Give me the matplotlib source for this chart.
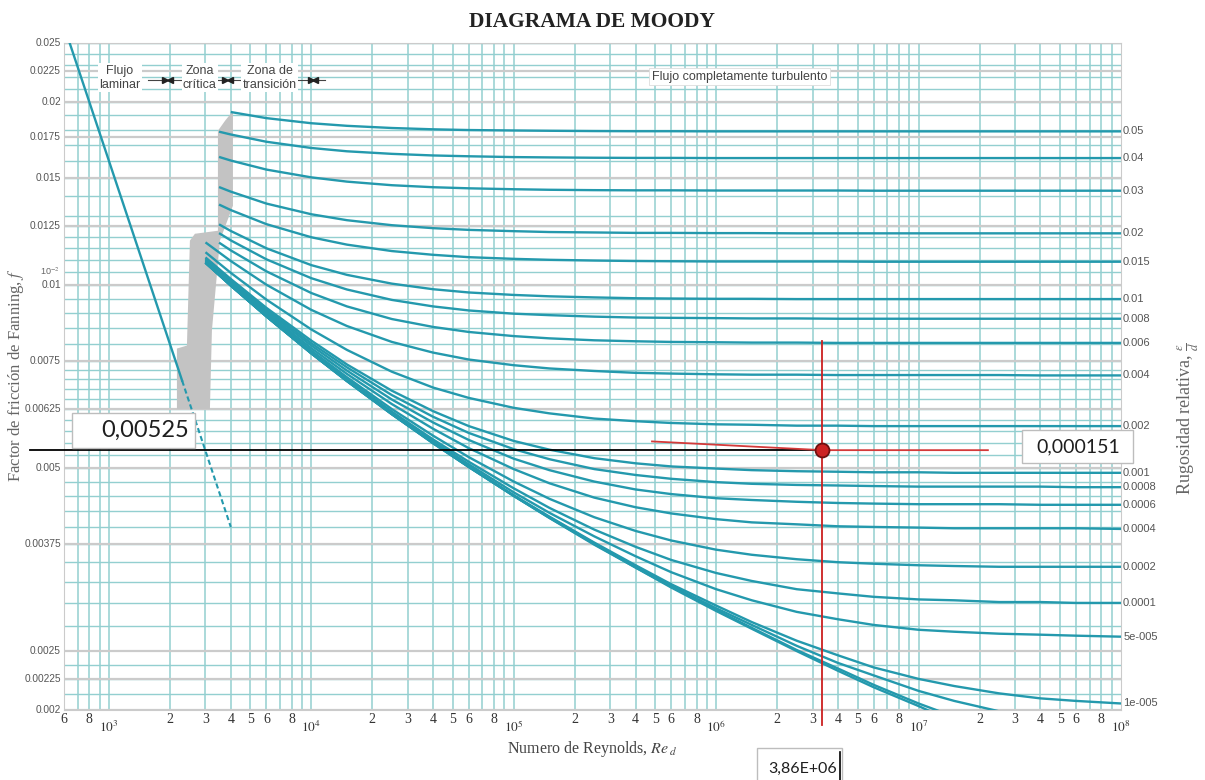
import numpy as np
import matplotlib
matplotlib.use('Agg')
import matplotlib.pyplot as plt
from matplotlib.patches import Rectangle
from matplotlib.transforms import blended_transform_factory

plt.rcParams['mathtext.fontset'] = 'stix'

# rugosidad relativa de cada curva y su etiqueta a la derecha
rugosidad = [0.05, 0.04, 0.03, 0.02, 0.015, 0.01, 0.008, 0.006, 0.004, 0.002, 0.001,
             0.0008, 0.0006, 0.0004, 0.0002, 0.0001, 5e-5, 1e-5, 5e-6, 1e-6, 0.0]
etiquetas = ['0.05', '0.04', '0.03', '0.02', '0.015', '0.01', '0.008', '0.006', '0.004',
             '0.002', '0.001', '0.0008', '0.0006', '0.0004', '0.0002', '0.0001',
             '5e-005', '1e-005']
re_inicio = [4000, 3500, 3500, 3500, 3500, 3500, 3500, 3500, 3000, 3000, 3000,
             3000, 3000, 3000, 3000, 3000, 3000, 3000, 3000, 3000, 3000]
re_malla = [4e3, 6e3, 1e4, 1.5e4, 2.5e4, 4e4, 6e4, 1e5, 1.5e5, 2.5e5, 4e5, 6e5,
            1e6, 1.5e6, 2.5e6, 4e6, 6e6, 1e7, 1.5e7, 2.5e7, 4e7, 6e7, 1e8]
# factor de Fanning x 1e5; primera columna en re_inicio, resto en re_malla
f_curvas = [
    [1925, 1925, 1881, 1845, 1827, 1812, 1803, 1798, 1795, 1793, 1791, 1790, 1790, 1789, 1789, 1789, 1789, 1789, 1789, 1789, 1789, 1789, 1789, 1789],
    [1787, 1768, 1720, 1680, 1659, 1643, 1633, 1628, 1623, 1621, 1619, 1618, 1618, 1617, 1617, 1617, 1617, 1617, 1617, 1617, 1617, 1617, 1617, 1617],
    [1624, 1602, 1548, 1503, 1479, 1459, 1448, 1442, 1437, 1434, 1432, 1431, 1431, 1430, 1430, 1430, 1430, 1429, 1429, 1429, 1429, 1429, 1429, 1429],
    [1449, 1424, 1361, 1307, 1278, 1254, 1240, 1232, 1226, 1222, 1220, 1218, 1218, 1217, 1217, 1216, 1216, 1216, 1216, 1216, 1216, 1216, 1216, 1216],
    [1356, 1328, 1259, 1198, 1165, 1137, 1121, 1111, 1104, 1100, 1097, 1095, 1094, 1093, 1093, 1093, 1093, 1092, 1092, 1092, 1092, 1092, 1092, 1092],
    [1258, 1227, 1149, 1078, 1039, 1005, 984, 972, 963, 958, 954, 951, 950, 949, 949, 948, 948, 948, 948, 948, 948, 948, 948, 948],
    [1217, 1184, 1102, 1026, 983, 945, 922, 908, 897, 892, 887, 884, 883, 882, 881, 881, 880, 880, 880, 880, 880, 880, 880, 880],
    [1174, 1140, 1053, 970, 922, 879, 853, 837, 824, 817, 811, 808, 806, 805, 804, 804, 803, 803, 803, 803, 803, 803, 803, 803],
    [1175, 1095, 1001, 910, 856, 806, 774, 754, 738, 729, 722, 717, 715, 713, 712, 712, 711, 711, 711, 711, 711, 710, 710, 710],
    [1132, 1047, 946, 845, 782, 720, 678, 652, 628, 615, 603, 597, 593, 590, 589, 587, 587, 586, 586, 586, 586, 586, 586, 586],
    [1110, 1023, 917, 810, 740, 670, 620, 586, 554, 536, 519, 509, 503, 499, 496, 494, 493, 492, 492, 491, 491, 491, 491, 491],
    [1106, 1018, 912, 802, 732, 659, 607, 571, 537, 517, 498, 487, 480, 474, 471, 469, 468, 467, 466, 466, 466, 466, 465, 465],
    [1101, 1013, 906, 795, 723, 648, 594, 556, 518, 496, 475, 461, 453, 446, 443, 440, 438, 437, 436, 436, 436, 435, 435, 435],
    [1097, 1008, 900, 787, 714, 637, 580, 539, 498, 472, 447, 431, 421, 412, 407, 404, 401, 400, 399, 398, 398, 398, 398, 397],
    [1092, 1003, 894, 780, 705, 625, 565, 521, 475, 445, 415, 394, 380, 367, 360, 354, 350, 348, 346, 345, 344, 344, 344, 344],
    [1090, 1000, 891, 776, 700, 619, 557, 512, 463, 430, 396, 371, 353, 336, 326, 316, 311, 307, 304, 303, 301, 301, 300, 300],
    [1089, 999, 889, 774, 698, 616, 553, 507, 456, 422, 386, 358, 337, 316, 303, 290, 282, 276, 271, 269, 267, 266, 265, 264],
    [1088, 998, 888, 772, 696, 614, 550, 503, 451, 416, 377, 346, 322, 297, 279, 260, 246, 235, 225, 219, 213, 209, 207, 205],
    [1088, 998, 888, 772, 695, 613, 550, 502, 450, 415, 376, 344, 320, 294, 276, 255, 239, 228, 215, 207, 199, 193, 190, 187],
    [1088, 998, 888, 772, 695, 613, 549, 502, 450, 414, 375, 343, 319, 292, 273, 251, 234, 220, 205, 195, 183, 174, 168, 161],
    [1088, 998, 888, 772, 695, 613, 549, 502, 450, 414, 374, 343, 318, 291, 272, 250, 232, 218, 203, 191, 178, 167, 158, 149],
]

# flujo laminar: tramo continuo y tramo discontinuo
re_laminar = [640, 2300, 4000]
f_laminar = [0.025, 0.00696, 0.004]

# zona critica sombreada
zona_re = [4100, 4100, 3535, 3228, 3155, 2168, 2168, 2429, 2513, 2660, 3456, 3456, 3742]
zona_f = [0.01933, 0.0135, 0.01183, 0.00842, 0.00625, 0.00625, 0.00786, 0.00795,
          0.01183, 0.01214, 0.01228, 0.01793, 0.01861]

# lectura marcada
re_lectura = 3.35e6
f_lectura = 0.00535
linea_roja_re = [4.82e5, 3.35e6, 2.2e7]
linea_roja_f = [0.00553, 0.00535, 0.00535]

yticks = [0.002, 0.00225, 0.0025, 0.00375, 0.005, 0.00625, 0.0075, 0.01, 0.0125,
          0.015, 0.0175, 0.02, 0.0225, 0.025]
ytick_labels = ['0.002', '0.00225', '0.0025', '0.00375', '0.005', '0.00625', '0.0075',
                '0.01', '0.0125', '0.015', '0.0175', '0.02', '0.0225', '0.025']

teal = '#2499ad'
grid_teal = '#93cfd0'
grid_gray = '#cbcbcb'

W, H = 1205, 780
fig = plt.figure(figsize=(W / 100, H / 100), dpi=100)
ax = fig.add_axes([64 / W, 1 - 710 / H, (1121 - 64) / W, (710 - 43) / H])
ax.set_xscale('log')
ax.set_yscale('log')
ax.set_xlim(600, 1e8)
ax.set_ylim(0.002, 0.025)
ax.set_xticks([])
ax.set_yticks([])
ax.set_xticks([], minor=True)
ax.set_yticks([], minor=True)
for s in ax.spines.values():
    s.set_color(grid_gray)

# rejilla
for n in range(2, 8):
    for k in range(1, 10):
        v = k * 10 ** n
        if 600 <= v <= 1e8:
            ax.axvline(v, color=grid_teal, lw=1.1, zorder=1)
hlines = list(np.arange(0.002125, 0.0025, 0.000125)) + list(np.arange(0.00275, 0.0076, 0.00025)) \
    + list(np.arange(0.008, 0.0126, 0.0005)) + list(np.arange(0.013, 0.025, 0.001))
for v in hlines:
    ax.axhline(v, color=grid_teal, lw=1.0, zorder=1)
for v in yticks:
    ax.axhline(v, color=grid_gray, lw=1.6, zorder=1)

# zona critica
ax.fill(zona_re, zona_f, color='#c3c3c3', lw=0, zorder=2)

# curvas de Colebrook
for r0, fila in zip(re_inicio, f_curvas):
    ax.plot([r0] + re_malla, np.array(fila) * 1e-5, color=teal, lw=1.7, zorder=3,
            solid_capstyle='butt')

# laminar
ax.plot(re_laminar[:2], f_laminar[:2], color=teal, lw=1.7, zorder=3)
ax.plot(re_laminar[1:], f_laminar[1:], color=teal, lw=1.5, ls=(0, (2.5, 1.5)), zorder=3)

# etiquetas de rugosidad a la derecha
tr_y = blended_transform_factory(ax.transAxes, ax.transData)
for lab, fila in zip(etiquetas, f_curvas):
    ax.text(1.002, fila[-1] * 1e-5, lab, transform=tr_y, ha='left', va='center',
            fontsize=8, color='#555555', family='Liberation Sans')

# etiquetas eje y
for v, lab in zip(yticks, ytick_labels):
    ax.text(-0.003, v, lab, transform=tr_y, ha='right', va='center', fontsize=7.3,
            color='#555555', family='Liberation Sans')
ax.text(-0.004, 0.01055, r'10$^{-2}$', transform=tr_y, ha='right', va='center',
        fontsize=6.5, color='#666666', family='Liberation Sans')

# etiquetas eje x
tr_x = ax.get_xaxis_transform()
xt = [(6e2, '6'), (8e2, '8')]
for n in range(3, 8):
    for k, lab in [(2, '2'), (3, '3'), (4, '4'), (5, '5'), (6, '6'), (8, '8')]:
        xt.append((k * 10 ** n, lab))
for v, lab in xt:
    ax.text(v, -0.014, lab, transform=tr_x, ha='center', va='center', fontsize=10,
            color='#333333', family='Liberation Serif')
for n in range(3, 9):
    ax.text(10 ** n, -0.026, r'$10^{%d}$' % n, transform=tr_x, ha='center', va='center',
            fontsize=9.5, color='#333333')

# zonas
caja = dict(facecolor='white', edgecolor='none', pad=1.0)
ax.plot([1560, 1.17e4], [0.02173, 0.02173], color='#444444', lw=0.8, zorder=4)
for b in [1956, 3872, 1.02e4]:
    ax.plot(b / 1.028, 0.02173, marker='>', ms=4, color='#222222', zorder=6)
    ax.plot(b * 1.028, 0.02173, marker='<', ms=4, color='#222222', zorder=6)
for x, txt in [(1133, 'Flujo\nlaminar'), (2815, 'Zona\ncrítica'), (6240, 'Zona de\ntransición')]:
    ax.text(x, 0.02190, txt, ha='center', va='center', fontsize=9, color='#444444',
            family='Liberation Sans', linespacing=1.25, bbox=caja, zorder=5)
ax.text(1.31e6, 0.02201, 'Flujo completamente turbulento', ha='center', va='center',
        fontsize=9, color='#444444', family='Liberation Sans',
        bbox=dict(facecolor='white', edgecolor='#dddddd', pad=2.0, lw=0.6), zorder=5)

# lectura: lineas, punto
ax.plot([407, re_lectura], [f_lectura, f_lectura], color='black', lw=1.3, zorder=7,
        clip_on=False)
ax.plot(linea_roja_re, linea_roja_f, color='#d43a3a', lw=1.3, zorder=7)
ax.plot([re_lectura, re_lectura], [0.0081, 0.00189], color='#cc2020', lw=1.3, zorder=7,
        clip_on=False)
ax.plot(re_lectura, f_lectura, 'o', ms=10, mfc='#cc2222', mec='#6e1010', mew=1.3, zorder=8)

# titulos
fig.text(592 / W, 1 - 22 / H, 'DIAGRAMA DE MOODY', ha='center', va='center', fontsize=15.5,
         weight='bold', family='Liberation Serif', color='#222222')
fig.text(592 / W, 1 - 749 / H, r'Numero de Reynolds, $Re_{\,d}$', ha='center', va='center',
         fontsize=11.5, family='Liberation Serif', color='#444444')
fig.text(16 / W, 1 - 375 / H, r'Factor de fricción de Fanning, $f$', ha='center', va='center',
         rotation=90, fontsize=12, family='Liberation Serif', color='#666666')
fig.text(1188 / W, 1 - 418 / H, r'Rugosidad relativa, $\frac{\epsilon}{d}$', ha='center',
         va='center', rotation=90, fontsize=13, family='Liberation Serif', color='#666666')


def cuadro(x0, x1, y0, y1, txt, tx, size):
    fig.add_artist(Rectangle((x0 / W, 1 - y1 / H), (x1 - x0) / W, (y1 - y0) / H,
                             transform=fig.transFigure, facecolor='white',
                             edgecolor='#bdbdbd', lw=1.0, zorder=20))
    fig.text(tx / W, 1 - (y0 + y1) / 2 / H, txt, ha='center', va='center', fontsize=size,
             family='Lato', color='#1e1e1e', zorder=21)


cuadro(72, 195, 413, 448, '0,00525', 145, 17)
cuadro(1022, 1133, 430, 463, '0,000151', 1078, 14)
cuadro(757, 842, 748, 790, '3,86E+06', 803, 11.5)
fig.add_artist(plt.Line2D([840 / W, 840 / W], [1 - 752 / H, 0.0], color='black', lw=1.2,
                          zorder=22))

fig.savefig('out.png', dpi=100)
